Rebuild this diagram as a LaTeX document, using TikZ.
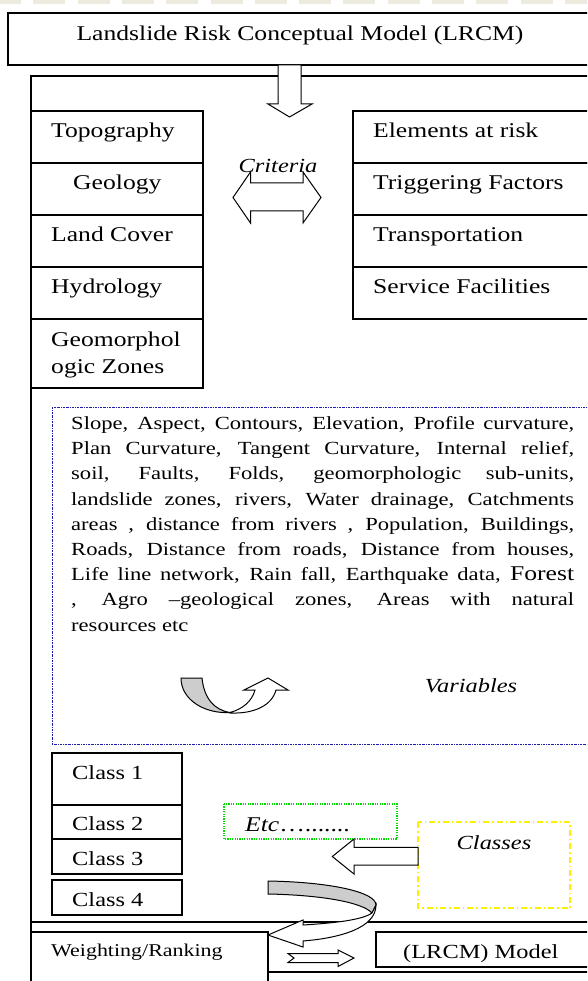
\documentclass[tikz,border=0pt]{standalone}
\usepackage{fontspec}
\setmainfont{Liberation Serif}[FakeStretch=1.22]
\usepackage{xcolor}
\usetikzlibrary{calc}
\definecolor{dotblue}{RGB}{30,30,170}
\definecolor{dotgreen}{RGB}{0,220,0}
\definecolor{dashyellow}{RGB}{250,240,0}
\definecolor{bandgray}{RGB}{205,205,205}
\definecolor{stripe}{RGB}{237,234,222}
\tikzset{
  frame/.style={draw=black, line width=1.2pt},
  lbl/.style={inner sep=0pt, anchor=base west, font=\fontsize{21}{25}\selectfont},
  cls/.style={inner sep=0pt, anchor=base west, font=\fontsize{20}{24}\selectfont},
  ital/.style={inner sep=0pt, anchor=base, font=\fontsize{20}{24}\selectfont\itshape},
  varline/.style={inner sep=0pt, anchor=base west, font=\fontsize{18.5}{25}\selectfont},
  blk/.style={draw=black, fill=white, line width=1pt, line join=miter},
  band/.style={draw=black, fill=bandgray, line width=1pt},
}

\begin{document}
\begin{tikzpicture}[x=1pt,y=-1pt]
  \useasboundingbox (0,0) rectangle (587,981);
  \clip (0,0) rectangle (587,981);
  \fill[white] (0,0) rectangle (587,981);
  \foreach \i in {0,...,13} \fill[stripe] (-11+44.3*\i,0) rectangle +(32,4);

  % title and outer frame
  \draw[frame] (8,13) rectangle (600,65);
  \node[lbl, anchor=base] (title) at (300,40.7) {Landslide Risk Conceptual Model (LRCM)};
  \draw[frame] (600,76) -- (31,76) -- (31,990);
  \draw[blk] (278,65) -- (278,104) -- (268,104) -- (289.5,117) -- (312,104) -- (301,104) -- (301,65) -- cycle;

  % criteria
  \foreach \y in {111,163,215,267} {
    \draw[frame] (31,\y) rectangle +(172,52);
    \draw[frame] (353,\y) rectangle (600,\y+52);
  }
  \draw[frame] (31,319) rectangle (203,388);
  \node[lbl] (topo) at (51,138) {Topography};
  \node[lbl] (geol) at (73,189.5) {Geology};
  \node[lbl] (land) at (51,242) {Land Cover};
  \node[lbl] (hydro) at (51,294) {Hydrology};
  \node[lbl] (geomA) at (51,346.7) {Geomorphol};
  \node[lbl] (geomB) at (51,373.3) {ogic Zones};
  \node[lbl] (risk) at (373,138) {Elements at risk};
  \node[lbl] (trig) at (373,190) {Triggering Factors};
  \node[lbl] (trans) at (373,242) {Transportation};
  \node[lbl] (serv) at (373,294) {Service Facilities};
  \draw[blk] (233,197.5) -- (250.5,172) -- (250.5,183) -- (303,183) -- (303,172) -- (321,197.5)
    -- (303,223) -- (303,211) -- (250.5,211) -- (250.5,223) -- cycle;
  \node[ital] (crit) at (278,173) {Criteria};

  % variables
  \draw[dotblue, line width=0.8pt, dash pattern=on 2pt off 1pt on 0.6pt off 1pt] (52,407) rectangle (600,744);
  \foreach \k/\l in {0/{Slope, Aspect, Contours, Elevation, Profile curvature,},
      1/{Plan Curvature, Tangent Curvature, Internal relief,},
      2/{soil, Faults, Folds, geomorphologic sub-units,},
      3/{landslide zones, rivers, Water drainage, Catchments},
      4/{areas , distance from rivers , Population, Buildings,},
      5/{Roads, Distance from roads, Distance from houses,},
      6/{Life line network, Rain fall, Earthquake data, {\fontsize{21}{25}\selectfont Forest}},
      7/{, Agro --geological zones, Areas with natural}}
    \node[varline] (var\k) at (71,429.4+25.2*\k) {\makebox[503pt][s]{\l}};
  \node[varline] (var8) at (71,631) {resources etc};
  \draw[band] (181,678) -- (202,678) .. controls (204,698) and (214,710) .. (230,712.5)
    .. controls (205,714) and (181,700) .. (181,678) -- cycle;
  \draw[blk] (230,712.5) .. controls (243,709) and (252,701) .. (255,690) -- (244,690) -- (268,678)
    -- (288,690) -- (276,690) .. controls (272,705) and (255,714) .. (230,713) -- cycle;
  \node[ital] (vars) at (471,692) {Variables};

  % classes
  \draw[frame] (52,753) rectangle (182,805);
  \draw[frame] (52,805) rectangle (182,839);
  \draw[frame] (52,839) rectangle (182,874);
  \draw[frame] (52,880) rectangle (182,915);
  \node[cls] (c1) at (72,779.3) {Class 1};
  \node[cls] (c2) at (72,830.7) {Class 2};
  \node[cls] (c3) at (72,865) {Class 3};
  \node[cls] (c4) at (72,906.7) {Class 4};
  \draw[dotgreen, line width=1.2pt, dash pattern=on 1.2pt off 1.2pt] (224,804) rectangle (397,839);
  \node[ital, anchor=base west, font=\fontsize{21}{25}\selectfont] (etc) at (245,831.7) {\textit{Etc}….......};
  \draw[dashyellow, line width=1.6pt, dash pattern=on 6pt off 3pt on 1.5pt off 3pt] (418,822) rectangle (570,908);
  \node[ital] (classes) at (494,849.3) {Classes};
  \draw[blk] (418,847.3) -- (354,847.3) -- (354,839) -- (332.3,856.5) -- (354,874) -- (354,865)
    -- (418,865) -- cycle;

  % weighting and model
  \draw[frame] (31,922) -- (600,922);
  \draw[frame] (31,932) -- (268,932) -- (268,990);
  \draw[frame] (268,972) -- (600,972);
  \draw[frame] (376,932) rectangle (600,967);
  \node[lbl, font=\fontsize{18}{22}\selectfont] (weight) at (51,956.7) {Weighting/Ranking};
  \node[lbl, font=\fontsize{20}{24}\selectfont] (model) at (403,958.3) {(LRCM) Model};
  \draw[band] (268,881) .. controls (330,882) and (376,892) .. (376,905) -- (372,913)
    .. controls (362,902) and (320,895) .. (268,894) -- cycle;
  \draw[blk] (376,905) .. controls (376,928) and (340,938) .. (303,941) -- (303,947) -- (268,935)
    -- (303,920) -- (303,925) .. controls (335,923) and (362,920) .. (372,913) -- cycle;
  \draw[blk] (288,953.5) -- (338,953.5) -- (338,950) -- (354,958) -- (338,966.5) -- (338,962.5)
    -- (288,962.5) -- (294,958) -- cycle;
\end{tikzpicture}
\end{document}
